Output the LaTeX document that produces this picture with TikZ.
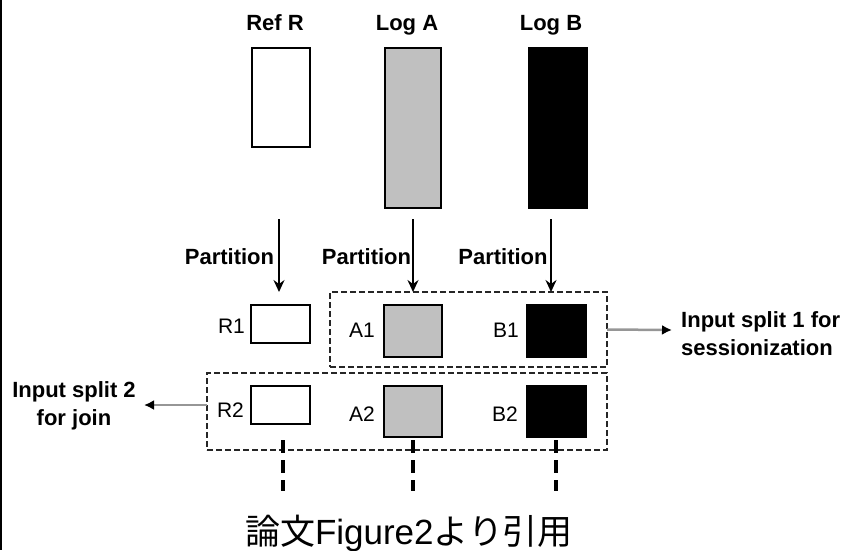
\documentclass[tikz,border=0pt]{standalone}
\usepackage{fontspec}
\setmainfont{Liberation Sans}
\newfontfamily\cjkfont{Noto Sans CJK JP}
\usetikzlibrary{arrows.meta}
\definecolor{logagray}{RGB}{192,192,192}
\definecolor{leadgray}{RGB}{150,150,150}
\begin{document}
\begin{tikzpicture}[x=1pt,y=-1pt,
  datarect/.style={draw=black,line width=1.8pt,inner sep=0pt,outer sep=0pt},
  reffill/.style={datarect,fill=white},
  logafill/.style={datarect,fill=logagray},
  logbfill/.style={datarect,fill=black},
  title/.style={font=\bfseries\fontsize{22}{26}\selectfont,inner sep=0pt,anchor=base},
  lbl/.style={font=\fontsize{21}{24}\selectfont,inner sep=0pt,anchor=base},
  splitbox/.style={draw=black!85,line width=1.5pt,dash pattern=on 6pt off 3pt,
    inner sep=0pt,outer sep=0pt},
  partarrow/.style={line width=1.8pt,-{Stealth[length=12pt,width=11pt,inset=4pt]}},
  outarrow/.style={draw=leadgray,line width=2.5pt,
    -{Latex[length=10pt,width=10pt,color=black]}},
  cont/.style={line width=3.2pt,dash pattern=on 13pt off 7pt},
  note/.style={font=\bfseries\fontsize{22}{28.5}\selectfont,inner sep=0pt}
]
\useasboundingbox (0,0) rectangle (842,550);
\draw[line width=2pt] (1,0) -- (1,550);

% source data sets
\node[title] (tR) at (275,30) {Ref R};
\node[title] (tA) at (407,30) {Log A};
\node[title] (tB) at (551,30) {Log B};
\node[reffill,minimum width=58pt,minimum height=99pt] (refR) at (281,97.5) {};
\node[logafill,minimum width=56pt,minimum height=160pt] (logA) at (413,128) {};
\node[logbfill,minimum width=58pt,minimum height=160pt] (logB) at (558,128) {};

% input splits
\node[splitbox,minimum width=277pt,minimum height=75pt] (split1) at (468.5,329.5) {};
\node[splitbox,minimum width=400pt,minimum height=77pt] (split2) at (407,411.5) {};

% partitions
\node[reffill,minimum width=59pt,minimum height=38pt] (r1) at (280.5,324) {};
\node[logafill,minimum width=58pt,minimum height=52pt] (a1) at (413,331) {};
\node[logbfill,minimum width=59pt,minimum height=52pt] (b1) at (556.5,331) {};
\node[reffill,minimum width=59pt,minimum height=38pt] (r2) at (280.5,405) {};
\node[logafill,minimum width=58pt,minimum height=51pt] (a2) at (413,411.5) {};
\node[logbfill,minimum width=59pt,minimum height=51pt] (b2) at (556.5,411.5) {};

\node[lbl] (lR1) at (231.5,333) {R1};
\node[lbl] (lA1) at (362,337) {A1};
\node[lbl] (lB1) at (506,337) {B1};
\node[lbl] (lR2) at (230.5,417) {R2};
\node[lbl] (lA2) at (362,421) {A2};
\node[lbl] (lB2) at (505,421) {B2};

% partition arrows
\coordinate (srcR) at (279,219);
\coordinate (srcA) at (413,219);
\coordinate (srcB) at (551,219);
\draw[partarrow] (srcR) -- (srcR |- split1.north);
\draw[partarrow] (srcA) -- (srcA |- split1.north);
\draw[partarrow] (srcB) -- (srcB |- split1.north);
\node[title] (pR) at (229.5,264) {Partition};
\node[title] (pA) at (366.5,264) {Partition};
\node[title] (pB) at (503,264) {Partition};

% split outputs
\coordinate (out1) at (672,330);
\coordinate (out2) at (144,405);
\draw[outarrow] (split1.east) -- (out1);
\draw[outarrow] (split2.west |- r2.west) -- (out2);
\node[note,anchor=north west,align=left] (n1) at (681,311) {Input split 1 for\\sessionization};
\node[note,anchor=north,align=center] (n2) at (74,381) {Input split 2\\for join};

% further partitions continue below
\coordinate (cR0) at (283,440);
\coordinate (cR1) at (283,491);
\coordinate (cA0) at (413,440);
\coordinate (cA1) at (413,491);
\coordinate (cB0) at (556,440);
\coordinate (cB1) at (556,491);
\draw[cont] (cR0) -- (cR1);
\draw[cont] (cA0) -- (cA1);
\draw[cont] (cB0) -- (cB1);

% caption
\node[inner sep=0pt,anchor=base,font=\fontsize{35}{40}\selectfont] (cap) at (409,544)
  {{\cjkfont 論文}Figure2{\cjkfont より引用}};
\end{tikzpicture}
\end{document}
